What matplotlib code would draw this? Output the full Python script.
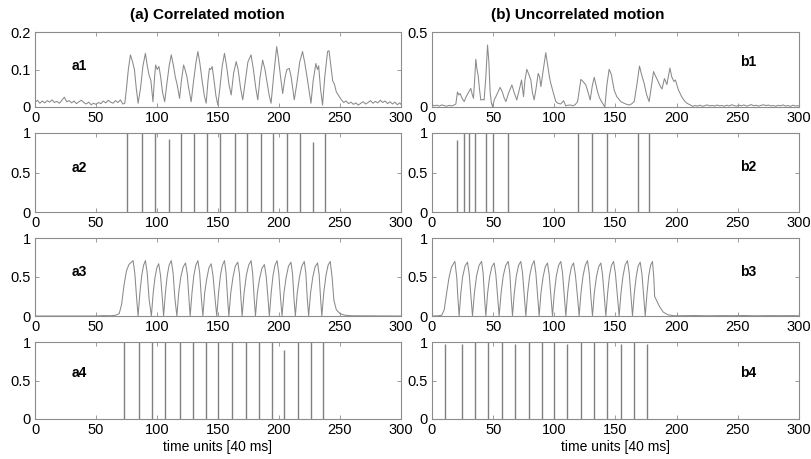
#!/usr/bin/env python3
"""
Correlated vs uncorrelated motion: responses and spike trains (a1-a4, b1-b4)
"""

import matplotlib
matplotlib.use('Agg')
import matplotlib.pyplot as plt

plt.rcParams['font.family'] = ['Liberation Sans Narrow', 'Liberation Sans', 'DejaVu Sans']

# ---- data ----
# a1: correlated motion, input signal
a1_x = [0, 2, 4, 6, 8, 10, 12, 14, 16, 18, 20, 22, 24, 26, 28, 30, 32, 34, 36, 38,
        40, 42, 44, 46, 48, 50, 52, 54, 56, 58, 60, 62, 64, 66, 68, 70, 72,
        73.6, 75, 76.5, 78.2, 80, 81.5, 83, 84.5, 86.5, 88.5, 90.5, 92, 93.5, 95, 96.7,
        98, 98.9, 100.2, 101.6, 103, 104.5, 106.3, 108, 110, 111.7, 113.5, 115, 116.5,
        118.5, 120, 121.8, 123, 124.5, 126, 128, 130, 132, 133.5, 135, 137, 138.8, 140.3,
        141.8, 143, 144, 145.2, 146.8, 148.3, 149.9, 151.5, 153.5, 155.3, 157, 159, 160.8,
        162.8, 164.9, 166.5, 168.5, 170.3, 172, 174.5, 177.1, 179, 181, 182.6, 184.5,
        186.6, 188.5, 190.5, 192, 193.5, 195.5, 198.1, 199.5, 201.3, 203, 205, 206.5,
        208.4, 210, 212.5, 214.5, 217, 219.3, 221, 223, 224.8, 226.2, 228, 230.2, 231.5,
        232.5, 234, 235.7, 237.5, 239.8, 241, 242.5, 244, 245.5, 247, 249, 251,
        253, 255, 257, 259, 261, 263, 265, 267, 269, 271, 273, 275, 277, 279, 281, 283,
        285, 287, 289, 291, 293, 295, 297, 299, 300]
a1_y = [0.012, 0.018, 0.010, 0.016, 0.011, 0.017, 0.013, 0.019, 0.012, 0.015, 0.010,
        0.018, 0.026, 0.014, 0.017, 0.011, 0.016, 0.009, 0.014, 0.018, 0.012, 0.008,
        0.013, 0.006, 0.010, 0.007, 0.012, 0.009, 0.016, 0.011, 0.018, 0.013, 0.010,
        0.017, 0.012, 0.019, 0.008,
        0.010, 0.050, 0.100, 0.139, 0.120, 0.100, 0.050, 0.010, 0.050, 0.110, 0.143,
        0.110, 0.085, 0.070, 0.014, 0.080, 0.112, 0.100, 0.108, 0.080, 0.040, 0.014,
        0.060, 0.110, 0.139, 0.110, 0.080, 0.060, 0.023, 0.070, 0.112, 0.100, 0.081,
        0.050, 0.014, 0.070, 0.120, 0.148, 0.120, 0.070, 0.030, 0.010, 0.070, 0.103,
        0.100, 0.108, 0.070, 0.030, 0.005, 0.050, 0.110, 0.143, 0.110, 0.060, 0.032,
        0.090, 0.121, 0.100, 0.050, 0.019, 0.060, 0.120, 0.139, 0.100, 0.050, 0.019,
        0.080, 0.125, 0.100, 0.060, 0.030, 0.010, 0.080, 0.161, 0.130, 0.080, 0.036,
        0.080, 0.100, 0.103, 0.080, 0.019, 0.060, 0.120, 0.148, 0.120, 0.080, 0.040,
        0.010, 0.070, 0.116, 0.100, 0.110, 0.050, 0.005, 0.080, 0.148, 0.150, 0.110,
        0.070, 0.060, 0.040, 0.030, 0.020,
        0.012, 0.016, 0.009, 0.013, 0.007, 0.011, 0.005, 0.010, 0.014, 0.008, 0.012,
        0.017, 0.010, 0.015, 0.011, 0.018, 0.012, 0.016, 0.009, 0.014, 0.008, 0.013,
        0.006, 0.011, 0.007]

# b1: uncorrelated motion, input signal
b1_x = [0, 2, 4, 6, 8, 10, 12, 14, 16, 18, 19.5,
        20.8, 22, 23, 24.5, 26.3, 28, 30, 31.7, 33, 33.9, 35, 35.8, 36.8, 37.7, 38.8,
        39.9, 41, 42.6, 44, 45.4, 46.5, 47.5, 48.5, 49.5, 51, 52.2, 54, 55.7, 57.5, 59,
        60.4, 62.5, 65.3, 67, 69.3, 71.5, 73.2, 74.8, 76, 77.5, 79, 80.8, 82, 83.5, 85,
        86.8, 88, 89, 91, 93, 94.5, 96, 97.1, 99, 101.2, 103, 105.3, 107.5, 109.4, 111,
        113.5, 115, 117, 119, 120.5, 121.7, 123.5, 125.7, 127.5, 129.3, 131, 132.6, 134,
        135.3, 137, 139, 141.3, 143, 144.8, 146.5, 148.9, 151, 154.4, 157, 159, 161.2,
        163, 165.3, 167.5, 169.6, 171.5, 173.4, 175.5, 177.5, 179.5, 181.1, 182.5, 184.3,
        186.5, 188, 190, 192, 194.5, 196, 197.8, 199, 201.3, 204, 206, 208.1, 210, 211.5,
        213, 215, 217, 219, 221, 223, 225, 227, 229, 231, 233, 235, 237, 239, 241, 243,
        245, 247, 249, 251, 253, 255, 257, 259, 261, 263, 265, 267, 269, 271, 273, 275,
        277, 279, 281, 283, 285, 287, 289, 291, 293, 295, 297, 299, 300]
b1_y = [0.015, 0.008, 0.012, 0.006, 0.014, 0.009, 0.005, 0.011, 0.007, 0.013, 0.020,
        0.100, 0.080, 0.090, 0.060, 0.036, 0.070, 0.100, 0.124, 0.080, 0.058, 0.200,
        0.318, 0.250, 0.213, 0.120, 0.047, 0.050, 0.047, 0.200, 0.413, 0.300, 0.100,
        0.030, 0.002, 0.050, 0.069, 0.100, 0.131, 0.100, 0.060, 0.036, 0.090, 0.147,
        0.100, 0.047, 0.120, 0.180, 0.069, 0.180, 0.251, 0.220, 0.180, 0.100, 0.047,
        0.120, 0.224, 0.200, 0.136, 0.250, 0.362, 0.280, 0.200, 0.158, 0.100, 0.036,
        0.025, 0.020, 0.042, 0.007, 0.012, 0.013, 0.008, 0.015, 0.036, 0.120, 0.184,
        0.170, 0.147, 0.100, 0.047, 0.140, 0.198, 0.150, 0.102, 0.060, 0.030, 0.000,
        0.150, 0.251, 0.220, 0.113, 0.070, 0.036, 0.025, 0.018, 0.013, 0.020, 0.036,
        0.150, 0.273, 0.210, 0.158, 0.080, 0.036, 0.150, 0.236, 0.210, 0.180, 0.140,
        0.120, 0.190, 0.150, 0.260, 0.200, 0.170, 0.180, 0.116, 0.070, 0.045, 0.027,
        0.018, 0.012,
        0.004, 0.010, 0.006, 0.012, 0.005, 0.009, 0.014, 0.007, 0.011, 0.006, 0.013,
        0.008, 0.010, 0.005, 0.012, 0.007, 0.015, 0.009, 0.006, 0.012, 0.008, 0.014,
        0.006, 0.010, 0.016, 0.008, 0.012, 0.006, 0.011, 0.015, 0.009, 0.013, 0.007,
        0.010, 0.005, 0.011, 0.008, 0.014, 0.006, 0.010, 0.004, 0.012, 0.007, 0.009,
        0.006]

# a2 / b2: input spike trains (spike times and heights)
a2_times = [75.8, 87.7, 98.6, 109.5, 119.3, 130.5, 141.0, 152.0, 164.0, 174.0,
            185.0, 195.4, 206.5, 217.0, 227.5, 238.0]
a2_heights = [1, 1, 1, 0.92, 1, 1, 1, 1, 1, 1, 1, 1, 1, 1, 0.88, 1]
b2_times = [20.7, 25.8, 30.3, 34.8, 44.5, 50.2, 62.0, 119.2, 131.0, 143.2, 168.5, 177.4]
b2_heights = [0.91, 1, 1, 1, 1, 1, 1, 1, 1, 1, 1, 1]

# a3: correlated motion, output response
a3_x = [0, 20, 50, 56, 62, 66, 69, 71, 73, 75, 77, 80.4, 81.8, 83.2,
        84.5, 86, 87.5, 89, 90.5, 92, 93.5,
        95.4, 96.9, 98.4, 99.9, 101.4, 102.9, 104.4,
        105.4, 106.9, 108.4, 109.9, 111.7, 113.2, 114.7,
        116.3, 117.8, 119.5, 121.5, 123.4, 124.9, 126.2,
        127.2, 128.7, 130.2, 131.8, 133.5, 135, 136.4,
        137.6, 139.1, 140.8, 142.6, 144.4, 145.9, 147.6,
        149, 150.5, 152, 153.6, 155.3, 156.6, 157.9,
        158.9, 160.5, 162.3, 164.2, 166.2, 167.6, 168.8,
        169.8, 171.4, 173.2, 175.1, 177.1, 178.4, 179.7,
        180.7, 182.3, 184.1, 186, 188, 189.5, 191,
        192.1, 193.6, 195.1, 196.7, 198.4, 199.8, 201.3,
        202.5, 204.1, 205.9, 207.8, 209.8, 211.1, 212.3,
        213.4, 215, 216.8, 218.7, 220.7, 222, 223.2,
        224.3, 225.9, 227.7, 229.6, 231.6, 232.9, 234.1,
        235.1, 236.7, 238.5, 240.2, 242, 243.5, 245, 247, 250, 254, 260, 300]
a3_y = [0, 0, 0, 0.005, 0.003, 0.01, 0.03, 0.15, 0.40, 0.58, 0.66, 0.71, 0.55, 0.25,
        0, 0.30, 0.52, 0.65, 0.71, 0.55, 0.22,
        0, 0.30, 0.50, 0.62, 0.67, 0.52, 0.22,
        0, 0.30, 0.52, 0.65, 0.71, 0.55, 0.22,
        0, 0.30, 0.50, 0.63, 0.68, 0.53, 0.22,
        0, 0.30, 0.52, 0.65, 0.71, 0.55, 0.22,
        0, 0.30, 0.48, 0.62, 0.67, 0.52, 0.22,
        0, 0.30, 0.52, 0.65, 0.71, 0.55, 0.22,
        0, 0.30, 0.50, 0.64, 0.69, 0.54, 0.22,
        0, 0.30, 0.52, 0.65, 0.71, 0.55, 0.22,
        0, 0.30, 0.48, 0.61, 0.66, 0.51, 0.22,
        0, 0.30, 0.52, 0.65, 0.71, 0.55, 0.22,
        0, 0.30, 0.50, 0.64, 0.69, 0.54, 0.22,
        0, 0.30, 0.50, 0.64, 0.70, 0.55, 0.22,
        0, 0.30, 0.50, 0.63, 0.68, 0.53, 0.22,
        0, 0.30, 0.52, 0.65, 0.70, 0.50, 0.20, 0.08, 0.03, 0.01, 0.003, 0]

# b3: uncorrelated motion, output response
b3_x = [0, 5, 8, 10, 12, 14, 16, 18.7, 20.2, 21.3,
        22.2, 23.6, 25, 27, 29, 30.4, 32,
        33.1, 34.7, 36.5, 38.5, 40.5, 41.8, 43,
        44, 45.5, 47.1, 48.9, 50.8, 52.2, 53.8,
        54.9, 56.5, 58.3, 60.3, 62.3, 63.6, 64.8,
        65.8, 67.3, 69, 70.8, 72.6, 74, 75.6,
        76.7, 78.2, 79.9, 81.7, 83.5, 84.9, 86.5,
        87.6, 89.1, 90.8, 92.6, 94.4, 95.8, 97.4,
        98.5, 100, 101.7, 103.5, 105.3, 106.7, 108.3,
        109.4, 110.9, 112.4, 114, 115.7, 117.2, 119.1,
        120.3, 121.8, 123.5, 125.3, 127.1, 128.5, 130,
        131.2, 132.7, 134.4, 136.2, 138, 139.4, 141,
        142.1, 143.6, 145.1, 146.7, 148.4, 149.9, 151.8,
        153, 154.5, 156.2, 158, 159.8, 161.2, 162.8,
        163.9, 165.4, 166.9, 168.5, 170.2, 171.6, 173.2,
        174.3, 175.8, 177.2, 178.7, 180.2, 181.3, 182, 183.5, 186, 189, 193, 198,
        205, 215, 225, 235, 245, 255, 265, 275, 285, 295, 300]
b3_y = [0, 0.003, 0.01, 0.08, 0.30, 0.50, 0.63, 0.70, 0.50, 0.20,
        0, 0.30, 0.50, 0.64, 0.69, 0.54, 0.22,
        0, 0.30, 0.52, 0.65, 0.70, 0.55, 0.22,
        0, 0.30, 0.50, 0.63, 0.68, 0.53, 0.22,
        0, 0.30, 0.52, 0.65, 0.70, 0.55, 0.22,
        0, 0.30, 0.52, 0.65, 0.70, 0.55, 0.22,
        0, 0.30, 0.52, 0.65, 0.71, 0.55, 0.22,
        0, 0.30, 0.50, 0.63, 0.68, 0.53, 0.22,
        0, 0.30, 0.52, 0.65, 0.70, 0.55, 0.22,
        0, 0.30, 0.50, 0.63, 0.68, 0.53, 0.22,
        0, 0.30, 0.52, 0.65, 0.71, 0.55, 0.22,
        0, 0.30, 0.50, 0.63, 0.68, 0.53, 0.22,
        0, 0.30, 0.52, 0.65, 0.70, 0.55, 0.22,
        0, 0.30, 0.52, 0.66, 0.71, 0.55, 0.22,
        0, 0.30, 0.50, 0.64, 0.69, 0.54, 0.22,
        0, 0.30, 0.52, 0.65, 0.70, 0.50, 0.25, 0.20, 0.12, 0.05, 0.015, 0.003,
        0.004, 0.006, 0.003, 0.005, 0.004, 0.006, 0.003, 0.005, 0.004, 0.005, 0.003]

# a4 / b4: output spike trains
a4_times = [72.8, 85.5, 96.0, 106.5, 118.5, 129.4, 140.3, 149.9, 161.8, 172.7,
            183.6, 194.1, 204.4, 215.3, 226.2, 236.1]
a4_heights = [1, 1, 1, 1, 1, 1, 1, 1, 1, 1, 1, 1, 0.9, 1, 1, 1]
b4_times = [11.0, 24.3, 35.5, 46.0, 57.0, 68.0, 79.0, 90.0, 100.0, 110.7,
            121.6, 132.5, 143.4, 154.3, 165.0, 175.6]
b4_heights = [0.97, 0.97, 1, 1, 1, 0.98, 1, 1, 1, 0.97, 1, 1, 1, 0.98, 1, 0.97]

x_ticks = [0, 50, 100, 150, 200, 250, 300]
line_color = '#8a8a8a'
spike_color = '#808080'
frame_color = '#8c8c8c'

fig = plt.figure(figsize=(8.12, 4.59), dpi=100)

left_x, left_w = 35 / 812, 366 / 812
right_x, right_w = 432 / 812, 367 / 812
rows = [(32, 107), (133, 212), (238, 316), (342, 419)]   # pixel top/bottom


def make_axes(x0, w, row):
    top, bot = rows[row]
    ax = fig.add_axes([x0, 1 - bot / 459, w, (bot - top) / 459])
    ax.set_xlim(0, 300)
    ax.set_xticks(x_ticks)
    ax.tick_params(direction='in', top=True, right=True, length=3, width=0.6,
                   color=frame_color, labelsize=10.5, pad=3)
    for s in ax.spines.values():
        s.set_color(frame_color)
        s.set_linewidth(0.8)
    return ax


def style_y(ax, ymax, ticks, labels):
    ax.set_ylim(0, ymax)
    ax.set_yticks(ticks)
    ax.set_yticklabels(labels)


panel_font = dict(fontsize=10, fontweight='bold', family=['Liberation Sans', 'DejaVu Sans'])
title_font = dict(fontsize=11, fontweight='bold', family=['Liberation Sans', 'DejaVu Sans'])

# a1
ax = make_axes(left_x, left_w, 0)
ax.plot(a1_x, a1_y, color=line_color, lw=0.75)
style_y(ax, 0.2, [0, 0.1, 0.2], ['0', '0.1', '0.2'])
ax.text(0.1, 0.55, 'a1', transform=ax.transAxes, va='center', **panel_font)

# a2
ax = make_axes(left_x, left_w, 1)
ax.vlines(a2_times, 0, a2_heights, color=spike_color, lw=1.0)
style_y(ax, 1, [0, 0.5, 1], ['0', '0.5', '1'])
ax.text(0.1, 0.56, 'a2', transform=ax.transAxes, va='center', **panel_font)

# a3
ax = make_axes(left_x, left_w, 2)
ax.plot(a3_x, a3_y, color=line_color, lw=0.75)
style_y(ax, 1, [0, 0.5, 1], ['0', '0.5', '1'])
ax.text(0.1, 0.56, 'a3', transform=ax.transAxes, va='center', **panel_font)

# a4
ax = make_axes(left_x, left_w, 3)
ax.vlines(a4_times, 0, a4_heights, color=spike_color, lw=1.0)
style_y(ax, 1, [0, 0.5, 1], ['0', '0.5', '1'])
ax.text(0.1, 0.6, 'a4', transform=ax.transAxes, va='center', **panel_font)
ax.set_xlabel('time units [40 ms]', fontsize=10, labelpad=2,
              family=['Liberation Sans', 'DejaVu Sans'])

# b1
ax = make_axes(right_x, right_w, 0)
ax.plot(b1_x, b1_y, color=line_color, lw=0.75)
style_y(ax, 0.5, [0, 0.5], ['0', '0.5'])
ax.text(0.84, 0.6, 'b1', transform=ax.transAxes, va='center', **panel_font)

# b2
ax = make_axes(right_x, right_w, 1)
ax.vlines(b2_times, 0, b2_heights, color=spike_color, lw=1.0)
style_y(ax, 1, [0, 0.5, 1], ['0', '0.5', '1'])
ax.text(0.84, 0.57, 'b2', transform=ax.transAxes, va='center', **panel_font)

# b3
ax = make_axes(right_x, right_w, 2)
ax.plot(b3_x, b3_y, color=line_color, lw=0.75)
style_y(ax, 1, [0, 0.5, 1], ['0', '0.5', '1'])
ax.text(0.84, 0.56, 'b3', transform=ax.transAxes, va='center', **panel_font)

# b4
ax = make_axes(right_x, right_w, 3)
ax.vlines(b4_times, 0, b4_heights, color=spike_color, lw=1.0)
style_y(ax, 1, [0, 0.5, 1], ['0', '0.5', '1'])
ax.text(0.84, 0.6, 'b4', transform=ax.transAxes, va='center', **panel_font)
ax.set_xlabel('time units [40 ms]', fontsize=10, labelpad=2,
              family=['Liberation Sans', 'DejaVu Sans'])

# column titles
fig.text(207 / 812, 1 - 15 / 459, '(a) Correlated motion', ha='center', va='center',
         **title_font)
fig.text(578 / 812, 1 - 15 / 459, '(b) Uncorrelated motion', ha='center', va='center',
         **title_font)

plt.savefig('out.png', dpi=100)
print("saved out.png")
